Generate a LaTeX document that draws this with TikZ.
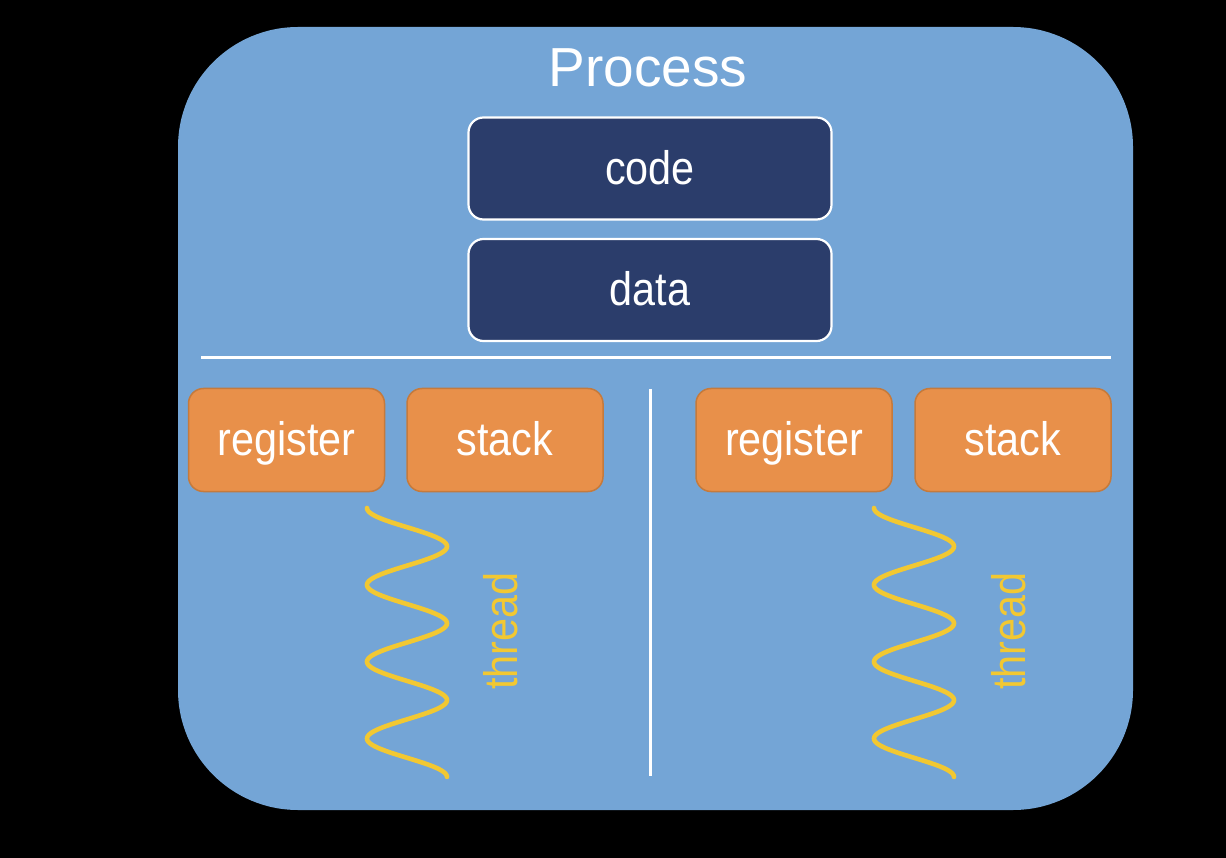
\documentclass[tikz,border=0pt]{standalone}
\usepackage{fontspec}
\setmainfont{Liberation Sans}
\newfontfamily\boxfont[FakeStretch=0.88]{Liberation Sans}
\definecolor{procblue}{RGB}{116,165,214}
\definecolor{navy}{RGB}{43,61,107}
\definecolor{orangefill}{RGB}{232,144,74}
\definecolor{orangeline}{RGB}{197,122,60}
\definecolor{threadyellow}{RGB}{242,200,50}
\tikzset{
  x=1pt, y=-1pt,
  darkbox/.style={draw=white, line width=2.2pt, fill=navy, rounded corners=15pt,
    minimum width=363pt, minimum height=102pt, inner sep=0pt, text=white,
    text height=38pt, text depth=6pt,
    font=\boxfont\fontsize{47}{56}\selectfont},
  orangebox/.style={draw=orangeline, line width=1.5pt, fill=orangefill, rounded corners=15pt,
    minimum width=196pt, minimum height=103pt, inner sep=0pt, text=white,
    text height=37pt, text depth=7pt,
    font=\boxfont\fontsize{47}{56}\selectfont},
  wave/.style={draw=threadyellow, line width=4.6pt, line cap=round},
  threadlabel/.style={text=threadyellow, rotate=90, inner sep=0pt,
    font=\boxfont\fontsize{47}{56}\selectfont},
  divider/.style={draw=white, line width=3pt}
}
\begin{document}
\begin{tikzpicture}
\useasboundingbox (0,0) rectangle (1226,858);
\fill[black] (0,0) rectangle (1226,858);
\fill[procblue, rounded corners=120pt] (178,27) rectangle (1133,810);
\node[text=white, inner sep=0pt, font=\fontsize{55}{64}\selectfont] (title) at (648,68) {Process};
\node[darkbox] (code) at (650,168.5) {code};
\node[darkbox] (data) at (650,290) {data};
\coordinate (hl) at (201,358);
\coordinate (hr) at (1111,358);
\draw[divider] (hl) -- (hr);
\coordinate (vt) at (650,389);
\coordinate (vb) at (650,776);
\draw[divider] (vt) -- (vb);
\node[orangebox] (reg1) at (286.5,440) {register};
\node[orangebox] (stack1) at (505,440) {stack};
\node[orangebox] (reg2) at (794,440) {register};
\node[orangebox] (stack2) at (1013,440) {stack};
\draw[wave] plot[domain=0:7, samples=211, smooth] ({407-40*cos(180*\x)},{508+38.43*\x});
\draw[wave] plot[domain=0:7, samples=211, smooth] ({914-40*cos(180*\x)},{508+38.43*\x});
\node[threadlabel] (thread1) at (501,631) {thread};
\node[threadlabel] (thread2) at (1009,631) {thread};
\end{tikzpicture}
\end{document}
